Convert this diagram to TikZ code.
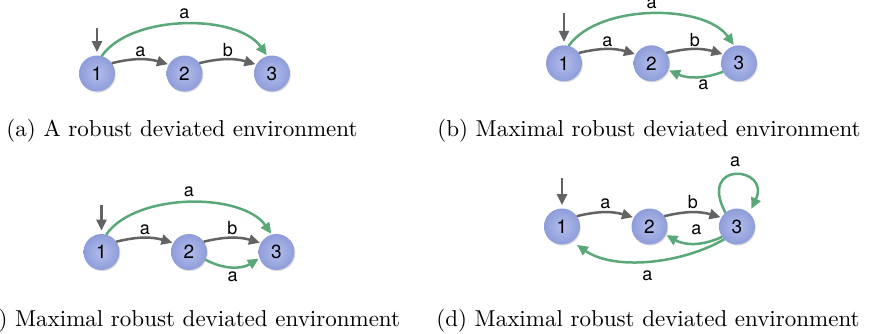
\documentclass[tikz,border=0pt]{standalone}
\usepackage{fontspec}
\newfontfamily\heros{TeX Gyre Heros}
\newfontfamily\capfont{lmroman10-regular.otf}
\usepackage{tikz}
\usetikzlibrary{arrows.meta,positioning,shadows}

\definecolor{statefill}{HTML}{8E9DDA}
\definecolor{statelight}{HTML}{B3BDEC}
\definecolor{edgegray}{HTML}{636363}
\definecolor{edgegreen}{HTML}{5AA878}

\begin{document}
\begin{tikzpicture}[
  x=1pt, y=1pt,
  node distance=51.5pt,
  state/.style={circle, minimum size=36pt, inner sep=0pt, outer sep=0pt,
    inner color=statelight, outer color=statefill,
    drop shadow={shadow xshift=0.8pt, shadow yshift=-1.2pt, opacity=0.25},
    font=\heros\fontsize{19}{19}\selectfont},
  lbl/.style={font=\heros\fontsize{18}{18}\selectfont, inner sep=1pt},
  grayarr/.style={draw=edgegray, line width=2.5pt, -{Triangle[length=11pt,width=10pt]}, shorten >=1pt},
  greenarr/.style={grayarr, draw=edgegreen},
  caption/.style={font=\capfont\fontsize{23}{28}\selectfont, anchor=base, inner sep=0pt}
]
\useasboundingbox (0,0) rectangle (872,333);

% (a)
\node[state] (a1) at (97,259.5) {1};
\node[state, right=of a1] (a2) {2};
\node[state, right=of a2] (a3) {3};
\coordinate[above=27.5pt of a1] (a0);
\draw[grayarr, shorten >=3.5pt] (a0) -- (a1);
\draw[grayarr] (a1.35) to[bend left=15] node[lbl, above=0.5pt] {a} (a2.150);
\draw[grayarr] (a2.35) to[bend left=15] node[lbl, above=0.5pt] {b} (a3.150);
\draw[greenarr] (a1.75) to[out=55, in=125, looseness=0.8] node[lbl, above=3.5pt] {a} (a3.105);
\node[caption] (capa) at (182,196.5) {(a) A robust deviated environment};

% (b)
\node[state] (b1) at (564,269.7) {1};
\node[state, right=of b1] (b2) {2};
\node[state, right=of b2] (b3) {3};
\coordinate[above=32pt of b1] (b0);
\draw[grayarr, shorten >=3.5pt] (b0) -- (b1);
\draw[grayarr] (b1.35) to[bend left=15] node[lbl, above=0.5pt] {a} (b2.150);
\draw[grayarr] (b2.35) to[bend left=15] node[lbl, above=0.5pt] {b} (b3.150);
\draw[greenarr] (b1.75) to[out=55, in=125, looseness=0.8] node[lbl, above=3.5pt] {a} (b3.105);
\draw[greenarr] (b3.208) to[bend left=22] node[lbl, below=1pt, pos=0.35] {a} (b2.-22);
\node[caption] (capb) at (649,196.5) {(b) Maximal robust deviated environment};

% (c)
\node[state] (c1) at (101.5,81) {1};
\node[state, right=of c1] (c2) {2};
\node[state, right=of c2] (c3) {3};
\coordinate[above=29pt of c1] (c0);
\draw[grayarr, shorten >=3.5pt] (c0) -- (c1);
\draw[grayarr] (c1.35) to[bend left=15] node[lbl, above=0.5pt] {a} (c2.150);
\draw[grayarr] (c2.35) to[bend left=15] node[lbl, above=0.5pt] {b} (c3.150);
\draw[greenarr] (c1.75) to[out=55, in=125, looseness=0.8] node[lbl, above=3.5pt] {a} (c3.105);
\draw[greenarr] (c2.-25) to[bend right=30] node[lbl, below=2.5pt] {a} (c3.200);
\node[caption] (capc) at (189.7,7) {(c) Maximal robust deviated environment};

% (d)
\node[state] (d1) at (562,106.5) {1};
\node[state, right=of d1] (d2) {2};
\node[state, right=of d2] (d3) {3};
\coordinate[above=30.5pt of d1] (d0);
\draw[grayarr, shorten >=3.5pt] (d0) -- (d1);
\draw[grayarr] (d1.35) to[bend left=15] node[lbl, above=1pt] {a} (d2.150);
\draw[grayarr] (d2.35) to[bend left=15] node[lbl, above=1pt] {b} (d3.150);
\draw[greenarr, shorten >=5pt] (d3.130) .. controls +(118:60) and +(65:52) .. node[lbl, above=6pt] {a} (d3.47);
\draw[greenarr] (d3.215) to[bend left=27] node[lbl, above=6.5pt, pos=0.45] {a} (d2.-27);
\draw[greenarr, shorten >=6pt] (d3.225) to[out=210, in=-35, looseness=0.85] node[lbl, below=8pt] {a} (d1.-56);
\node[caption] (capd) at (648,7) {(d) Maximal robust deviated environment};
\end{tikzpicture}
\end{document}
